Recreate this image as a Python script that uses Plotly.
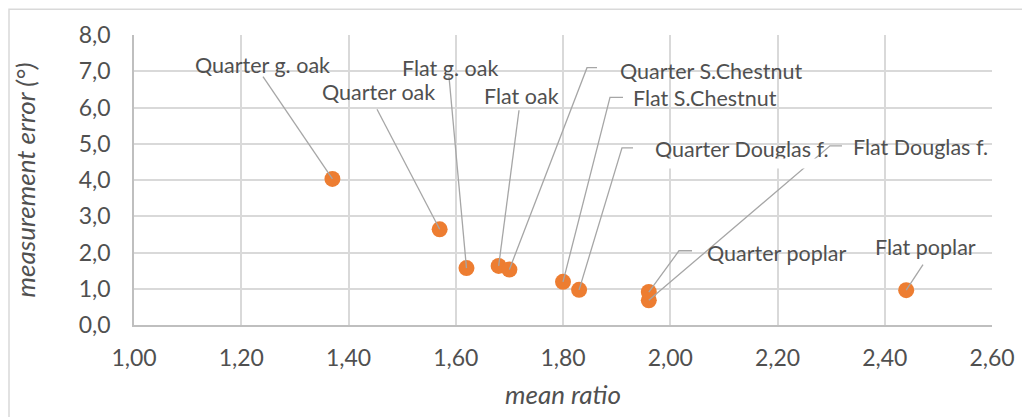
#-- Scatter of mean ratio vs measurement error per wood species / cut

import plotly.graph_objects as go

#-- Data
labels = ["Quarter g. oak", "Quarter oak", "Flat g. oak", "Flat oak", "Quarter S.Chestnut",
          "Flat S.Chestnut", "Quarter Douglas f.", "Flat Douglas f.", "Quarter poplar", "Flat poplar"]
mean_ratio = [1.37, 1.57, 1.62, 1.68, 1.70, 1.80, 1.83, 1.96, 1.96, 2.44]
meas_error = [4.03, 2.64, 1.57, 1.63, 1.53, 1.19, 0.97, 0.68, 0.91, 0.96]

x_ticks = [1.0, 1.2, 1.4, 1.6, 1.8, 2.0, 2.2, 2.4, 2.6]
x_ticktext = ["1,00", "1,20", "1,40", "1,60", "1,80", "2,00", "2,20", "2,40", "2,60"]
y_ticks = [0, 1, 2, 3, 4, 5, 6, 7, 8]
y_ticktext = ["0,0", "1,0", "2,0", "3,0", "4,0", "5,0", "6,0", "7,0", "8,0"]

#-- Label layout (pixels in the 1030x417 window): text left edge, text centre y,
#-- leader elbow (x, y) and end of the short horizontal tail (None = straight leader)
OFF = 8  # default body margin of the html page
W, H = 1030 - OFF, 417 - OFF
L, T = 134 - OFF, 35 - OFF
R, B = W - (992 - OFF), H - (328 - OFF)
label_px = [(193, 65), (320, 93), (400, 68), (482, 97), (618, 71),
            (631, 99), (653, 150), (851, 148), (705, 255), (873, 249)]
elbow_px = [(263, 77), (377, 110), (449, 77), (519, 111), (587, 68),
            (610, 98), (622, 149), (830, 147), (679, 253), (923, 267)]
tail_px = [None, None, None, None, 597, 623, 633, 842, 692, None]

x_rng = [1.0, 2.6]
y_rng = [0, 8]


def px_to_x(px):
    return x_rng[0] + (px - OFF - L) / (W - L - R) * (x_rng[1] - x_rng[0])


def px_to_y(py):
    return y_rng[0] + (H - B - (py - OFF)) / (H - T - B) * (y_rng[1] - y_rng[0])


text_col = "#505050"
grid_col = "#d9d9d9"
font_family = "Lato"

fig = go.Figure()

fig.add_trace(go.Scatter(x=mean_ratio, y=meas_error, mode="markers",
                         marker=dict(color="#ed7d31", size=16),
                         showlegend=False, hoverinfo="text", text=labels))

# leader lines, drawn over the markers like in excel
for i, lab in enumerate(labels):
    ex, ey = elbow_px[i]
    xs = [mean_ratio[i], px_to_x(ex)]
    ys = [meas_error[i], px_to_y(ey)]
    if tail_px[i] is not None:
        xs.append(px_to_x(tail_px[i]))
        ys.append(px_to_y(ey))
    fig.add_trace(go.Scatter(x=xs, y=ys, mode="lines",
                             line=dict(color="#a6a6a6", width=1.3),
                             showlegend=False, hoverinfo="skip", cliponaxis=False))

    lx, ly = label_px[i]
    fig.add_annotation(x=px_to_x(lx), y=px_to_y(ly), text=lab, showarrow=False,
                       xanchor="left", yanchor="middle",
                       font=dict(family=font_family, size=21.5, color=text_col))

# the descenders of "Quarter Douglas f." are hidden in the original
fig.add_annotation(x=px_to_x(652), y=px_to_y(159), text="", showarrow=False,
                   xanchor="left", yanchor="top", width=180, height=9,
                   bgcolor="white", borderpad=0)

# outer chart border (as close to the page corner as the body margin allows)
fig.add_shape(type="rect", xref="paper", yref="paper",
              x0=(1 - L) / (W - L - R), x1=1.2,
              y0=-0.5, y1=(H - B - 1) / (H - T - B),
              line=dict(color=grid_col, width=1.5), layer="below")

fig.update_xaxes(range=x_rng, tickvals=x_ticks, ticktext=x_ticktext,
                 showgrid=True, gridcolor=grid_col, gridwidth=1.5,
                 showline=True, linecolor="#bfbfbf", linewidth=1.5,
                 zeroline=False, ticks="", ticklabelstandoff=12,
                 tickfont=dict(family=font_family, size=23, color=text_col),
                 title=dict(text="<i>mean ratio</i>", standoff=15,
                            font=dict(family=font_family, size=26, color=text_col)))
fig.update_yaxes(range=y_rng, tickvals=y_ticks, ticktext=y_ticktext,
                 showgrid=True, gridcolor=grid_col, gridwidth=1.5,
                 showline=True, linecolor="#bfbfbf", linewidth=1.5,
                 zeroline=False, ticks="", ticklabelstandoff=17,
                 tickfont=dict(family=font_family, size=23, color=text_col),
                 title=dict(text="<i>measurement error (°)</i>", standoff=36,
                            font=dict(family=font_family, size=26, color=text_col)))

fig.update_layout(width=W, height=H, margin=dict(l=L, r=R, t=T, b=B),
                  plot_bgcolor="white", paper_bgcolor="white")

fig.write_html("out.html")
